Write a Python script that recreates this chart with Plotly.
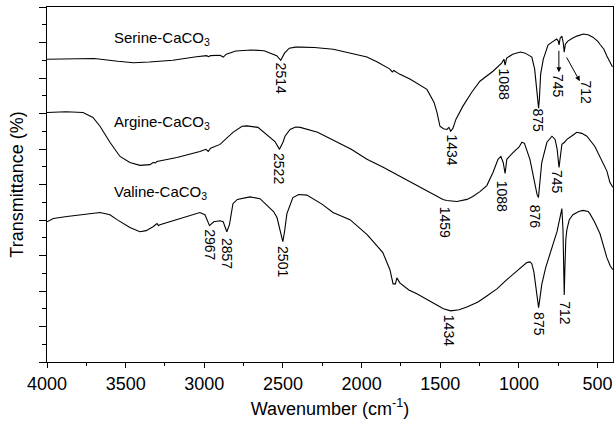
import plotly.graph_objects as go

# ---- data (wavenumber cm^-1, transmittance in arbitrary offset units) ----
serine_wn = [4000, 3850, 3700, 3550, 3450, 3350, 3200, 3050, 2985, 2975, 2960, 2900, 2880, 2860,
             2800, 2700, 2620, 2580, 2540, 2514, 2490, 2460, 2420, 2390, 2300, 2180, 2100, 1966,
             1900, 1820, 1805, 1795, 1760, 1693, 1585, 1540, 1521, 1502, 1480, 1458, 1445, 1434,
             1420, 1400, 1357, 1300, 1248, 1165, 1110, 1095, 1088, 1078, 1040, 990, 960, 918, 900,
             888, 880, 875, 870, 862, 845, 815, 790, 760, 750, 745, 738, 727, 718, 712, 705, 689,
             660, 632, 590, 560, 530, 500, 485, 460, 441, 420, 405]
serine_t = [8.53, 8.53, 8.55, 8.47, 8.43, 8.45, 8.50, 8.60, 8.63, 8.60, 8.63, 8.64, 8.59, 8.67,
            8.76, 8.79, 8.77, 8.70, 8.63, 8.50, 8.70, 8.84, 8.87, 8.87, 8.86, 8.81, 8.73, 8.59,
            8.45, 8.25, 8.17, 8.21, 8.11, 7.97, 7.68, 7.32, 7.03, 6.64, 6.57, 6.55, 6.61, 6.50,
            6.58, 6.84, 7.20, 7.60, 7.91, 8.19, 8.42, 8.53, 8.36, 8.56, 8.67, 8.73, 8.70, 8.59, 8.25,
            7.68, 7.23, 7.15, 7.40, 8.11, 8.53, 8.93, 9.01, 9.10, 9.04, 8.93, 9.12, 9.18, 8.98, 8.73,
            8.95, 9.04, 9.12, 9.18, 9.24, 9.22, 9.15, 9.04, 8.95, 8.81, 8.62, 8.45, 8.31]

argine_wn = [4000, 3880, 3771, 3708, 3663, 3600, 3536, 3473, 3409, 3345, 3326, 3310, 3301, 3174,
             3028, 2990, 2975, 2960, 2900, 2818, 2760, 2730, 2659, 2602, 2551, 2522, 2500, 2487,
             2455, 2420, 2390, 2280, 2180, 2066, 1966, 1860, 1757, 1660, 1585, 1483, 1459, 1394,
             1330, 1293, 1248, 1204, 1165, 1133, 1115, 1100, 1088, 1077, 1038, 1000, 981, 965, 930,
             905, 885, 876, 865, 855, 822, 790, 770, 757, 745, 737, 727, 710, 695, 660, 632, 600,
             568, 517, 466, 440, 422, 403]
argine_t = [7.03, 7.05, 7.03, 6.89, 6.64, 6.19, 5.79, 5.62, 5.54, 5.56, 5.62, 5.61, 5.65, 5.76,
            5.93, 5.99, 5.93, 6.02, 6.13, 6.47, 6.64, 6.65, 6.61, 6.41, 6.21, 5.99, 6.19, 6.36,
            6.55, 6.62, 6.61, 6.47, 6.24, 5.99, 5.71, 5.48, 5.23, 5.00, 4.80, 4.58, 4.55, 4.52,
            4.58, 4.66, 4.80, 4.97, 5.34, 5.71, 5.79, 5.62, 5.31, 5.71, 5.90, 6.05, 6.19, 6.16, 5.71,
            5.14, 4.72, 4.63, 5.14, 5.62, 6.19, 6.36, 6.27, 5.99, 5.48, 5.85, 6.13, 6.19, 6.27, 6.38,
            6.47, 6.44, 6.36, 6.07, 5.62, 5.37, 5.06, 4.92]

valine_wn = [4000, 3960, 3873, 3760, 3663, 3600, 3555, 3473, 3409, 3370, 3326, 3301, 3290, 3282,
             3136, 3028, 2996, 2967, 2940, 2900, 2880, 2857, 2840, 2818, 2790, 2710, 2646, 2595,
             2560, 2538, 2515, 2501, 2490, 2475, 2437, 2400, 2348, 2250, 2182, 2074, 1965, 1865,
             1820, 1800, 1785, 1776, 1757, 1700, 1649, 1547, 1480, 1434, 1380, 1331, 1260, 1204,
             1140, 1077, 1000, 950, 930, 918, 905, 895, 880, 875, 868, 855, 830, 815, 790, 758, 735,
             727, 720, 716, 712, 708, 702, 695, 680, 657, 620, 593, 560, 549, 520, 485, 441, 420, 403]
valine_t = [3.95, 4.04, 4.10, 4.15, 4.21, 4.15, 4.01, 3.79, 3.67, 3.70, 3.81, 3.90, 3.84, 3.87,
            4.07, 4.21, 4.15, 3.84, 3.95, 3.98, 3.95, 3.67, 3.87, 4.46, 4.58, 4.65, 4.60, 4.38,
            4.24, 4.07, 3.67, 3.39, 3.67, 4.18, 4.63, 4.72, 4.70, 4.44, 4.21, 4.01, 3.59, 3.08,
            2.60, 2.20, 2.20, 2.37, 2.23, 2.03, 1.92, 1.67, 1.50, 1.44, 1.47, 1.55, 1.69, 1.86,
            2.06, 2.32, 2.60, 2.80, 2.82, 2.77, 2.54, 2.18, 1.61, 1.53, 1.75, 2.18, 2.66, 2.88, 3.22,
            3.67, 4.15, 4.32, 3.73, 2.32, 1.89, 2.60, 3.45, 3.73, 4.01, 4.15, 4.24, 4.27, 4.24, 4.18,
            3.95, 3.62, 2.94, 2.71, 2.60]

series_names = ["Serine-CaCO<sub>3</sub>", "Argine-CaCO<sub>3</sub>", "Valine-CaCO<sub>3</sub>"]

# peak labels: (text, wavenumber, vertical centre)
peak_labels = [
    ("2514", 2514, 7.99), ("1434", 1426, 5.96), ("1088", 1096, 7.82), ("875", 880, 6.81),
    ("745", 750, 7.77), ("712", 575, 7.60),
    ("2522", 2522, 5.45), ("1459", 1471, 3.93), ("1088", 1102, 4.66), ("876", 899, 4.10),
    ("745", 753, 5.08),
    ("2967", 2962, 3.31), ("2857", 2857, 3.05), ("2501", 2501, 2.82), ("1434", 1445, 0.88),
    ("875", 873, 1.07), ("712", 708, 1.38),
]

FONT = "Liberation Sans, Arial, sans-serif"

fig = go.Figure()
for wn, t, name in [(serine_wn, serine_t, series_names[0]),
                    (argine_wn, argine_t, series_names[1]),
                    (valine_wn, valine_t, series_names[2])]:
    fig.add_trace(go.Scatter(x=wn, y=t, mode="lines", name=name,
                             line=dict(color="black", width=1.1), showlegend=False))

# series names
for name, y in zip(series_names, [9.12, 6.75, 4.77]):
    fig.add_annotation(x=3585, y=y, text=name, showarrow=False, xanchor="left", yanchor="middle",
                       font=dict(family=FONT, size=15, color="black"))

for txt, x, y in peak_labels:
    fig.add_annotation(x=x, y=y, text=txt, showarrow=False, textangle=90,
                       xanchor="center", yanchor="middle",
                       font=dict(family=FONT, size=14, color="black"))

# arrows
fig.add_annotation(x=746, y=8.16, ax=746, ay=8.81, axref="x", ayref="y", text="",
                   showarrow=True, arrowhead=2, arrowsize=1, arrowwidth=1, arrowcolor="black")
fig.add_annotation(x=613, y=7.91, ax=702, ay=8.62, axref="x", ayref="y", text="",
                   showarrow=True, arrowhead=2, arrowsize=1, arrowwidth=1, arrowcolor="black")

fig.update_layout(
    width=614, height=424,
    margin=dict(l=47, r=1, t=7, b=62, autoexpand=False),
    paper_bgcolor="white", plot_bgcolor="white",
    font=dict(family=FONT, color="black"),
)
fig.update_xaxes(
    range=[4000, 402], showgrid=False, zeroline=False, automargin=False,
    showline=True, linecolor="black", linewidth=1.2, mirror=True,
    tickmode="linear", tick0=500, dtick=500, ticks="outside", ticklen=5, tickcolor="black",
    minor=dict(dtick=250, tick0=250, ticks="outside", ticklen=3, tickcolor="black"),
    tickfont=dict(family=FONT, size=18, color="black"),
    title=dict(text="Wavenumber (cm<sup>-1</sup>)", font=dict(family=FONT, size=18, color="black"),
               standoff=9),
)
fig.update_yaxes(
    range=[0, 10], showgrid=False, zeroline=False, automargin=False,
    showline=True, linecolor="black", linewidth=1.2, mirror=True,
    tickmode="linear", tick0=0, dtick=1, ticks="outside", ticklen=7, tickcolor="black",
    minor=dict(dtick=0.5, tick0=0, ticks="outside", ticklen=4, tickcolor="black"),
    showticklabels=False,
    title=dict(text="Transmittance (%)", font=dict(family=FONT, size=18, color="black"),
               standoff=10),
)

fig.write_html("out.html", config={"displayModeBar": False},
               post_script="document.body.style.margin='0';")
